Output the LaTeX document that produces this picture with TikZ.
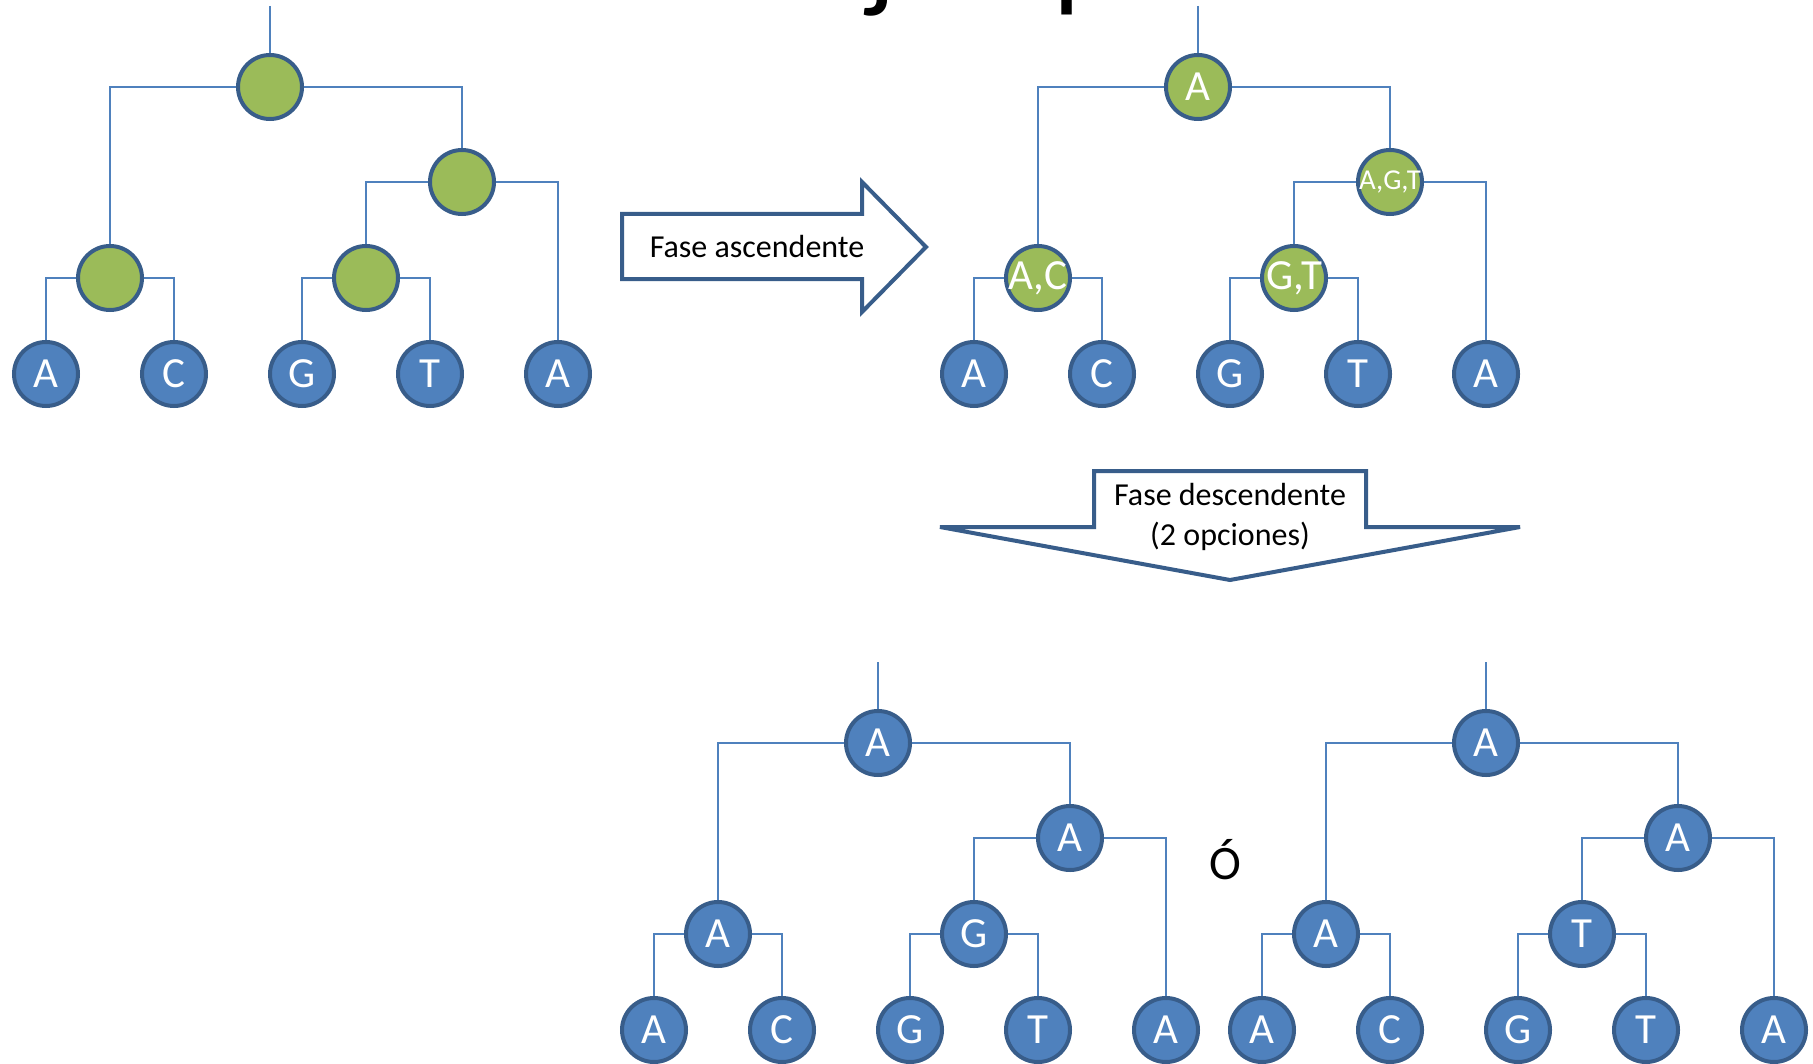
\documentclass[tikz,border=0pt]{standalone}
\usepackage{fontspec}
\setmainfont{Carlito}
\usetikzlibrary{backgrounds}

\definecolor{nodeblue}{HTML}{4F81BD}
\definecolor{rimblue}{HTML}{385D8A}
\definecolor{stategreen}{HTML}{9BBB59}

\tikzset{
  tnode/.style={circle, draw=rimblue, line width=2pt, minimum size=32pt,
    inner sep=0pt, text=white, font=\fontsize{21.5}{21.5}\selectfont},
  leafnode/.style={tnode, fill=nodeblue},
  ancgreen/.style={tnode, fill=stategreen},
  ancblue/.style={tnode, fill=nodeblue},
  branch/.style={draw=nodeblue, line width=1.1pt},
  bigarrow/.style={draw=rimblue, fill=white, line width=2pt, line join=miter},
  arrowtext/.style={font=\fontsize{16}{20}\selectfont, text=black, align=center},
}

% One tree on the leaves A C G T A: #1 name prefix, #2 shift,
% #3 style of the inner nodes, #4 root, #5 right inner, #6 left inner, #7 middle inner
\newcommand{\phylotree}[7]{%
\begin{scope}[shift={#2}]
  \coordinate (#1stub) at (270,6);
  \node[#3] (#1root)  at (270,87)  {#4};
  \node[#3] (#1right) at (462,182) {#5};
  \node[#3] (#1left)  at (110,278) {#6};
  \node[#3] (#1mid)   at (366,278) {#7};
  \node[leafnode] (#1la) at (46,374)  {A};
  \node[leafnode] (#1lb) at (174,374) {C};
  \node[leafnode] (#1lc) at (302,374) {G};
  \node[leafnode] (#1ld) at (430,374) {T};
  \node[leafnode] (#1le) at (558,374) {A};
  \begin{pgfonlayer}{background}
    \draw[branch] (#1stub) -- (#1root);
    \draw[branch] (#1root) -| (#1left);
    \draw[branch] (#1root) -| (#1right);
    \draw[branch] (#1right) -| (#1mid);
    \draw[branch] (#1right) -| (#1le);
    \draw[branch] (#1left) -| (#1la);
    \draw[branch] (#1left) -| (#1lb);
    \draw[branch] (#1mid) -| (#1lc);
    \draw[branch] (#1mid) -| (#1ld);
  \end{pgfonlayer}
\end{scope}}

\begin{document}
\begin{tikzpicture}[x=0.5pt, y=-0.5pt]
  \useasboundingbox (0,0) rectangle (1813,1064);
  \clip (0,0) rectangle (1813,1064);

  % slide title, only its lowest part lies on the page
  \node[font=\fontsize{60.5}{60.5}\selectfont, anchor=base] (title) at (924,-4) {Un ejemplo};

  % unlabelled tree
  \phylotree{u}{(0,0)}{ancgreen}{}{}{}{}

  % tree after the upward pass
  \phylotree{s}{(928,0)}{ancgreen}{A}%
    {\makebox[0pt]{\fontsize{14.4}{14.4}\selectfont A,G,T}}%
    {\makebox[0pt]{A,C}}{\makebox[0pt]{G,T}}

  % the two trees after the downward pass
  \phylotree{p}{(608,656)}{ancblue}{A}{A}{A}{G}
  \phylotree{q}{(1216,656)}{ancblue}{A}{A}{A}{T}

  % upward pass arrow
  \draw[bigarrow] (622,214) -- (862,214) -- (862,182) -- (926,247)
    -- (862,312) -- (862,279) -- (622,279) -- cycle;
  \node[arrowtext] (up) at (757,247) {Fase ascendente};

  % downward pass arrow
  \draw[bigarrow] (1094,471) -- (1366,471) -- (1366,527) -- (1520,527)
    -- (1230,580) -- (940,527) -- (1094,527) -- cycle;
  \node[arrowtext] (down) at (1230,517) {Fase descendente\\(2 opciones)};

  % "or" between the two resulting trees
  \node[font=\fontsize{24}{24}\selectfont, anchor=base] (alt) at (1225,879) {Ó};
\end{tikzpicture}
\end{document}
